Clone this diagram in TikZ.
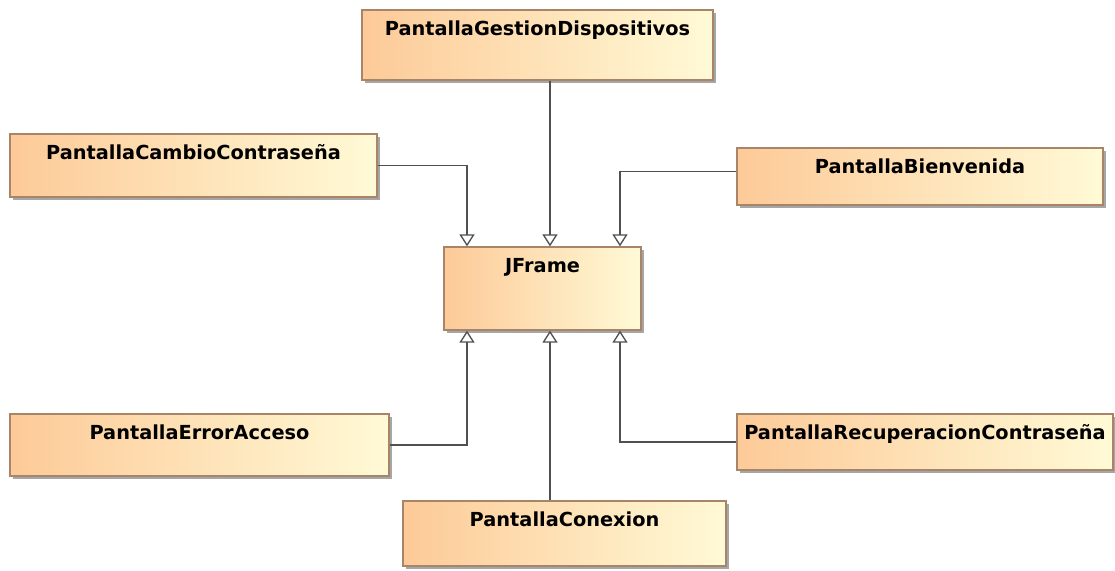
\documentclass[tikz,border=0pt]{standalone}
\usepackage{fontspec}
\setmainfont{DejaVu Sans}
\usetikzlibrary{arrows.meta,shadows}
\definecolor{boxleft}{RGB}{253,202,152}
\definecolor{boxright}{RGB}{255,250,214}
\definecolor{boxedge}{RGB}{168,132,104}
\definecolor{wire}{RGB}{80,80,80}
\tikzset{
  uml/.style={draw=boxedge, line width=0.9pt, left color=boxleft, right color=boxright,
    drop shadow={shadow xshift=2.5pt, shadow yshift=-2.5pt, fill=black, opacity=0.35},
    inner sep=0pt, text height=19pt, font=\fontsize{14.5pt}{16pt}\selectfont\bfseries},
  gen/.style={draw=wire, line width=1pt,
    -{Triangle[open, width=11.25pt, length=9pt, fill=white]}},
}
\begin{document}
\begin{tikzpicture}[x=0.75pt, y=-0.75pt]
\useasboundingbox (0,0) rectangle (1115,571);
% classes (position = centre, sizes in px)
\node[uml, minimum width=351*0.75pt, text depth=(70*0.75pt-19pt)] (gd) at (537.5,45) {PantallaGestionDispositivos};
\node[uml, minimum width=367*0.75pt, text depth=(63*0.75pt-19pt)] (cc) at (193.5,165.5) {PantallaCambioContraseña};
\node[uml, minimum width=366*0.75pt, text depth=(57*0.75pt-19pt)] (bv) at (920,176.5) {PantallaBienvenida};
\node[uml, minimum width=197*0.75pt, text depth=(83*0.75pt-19pt)] (jf) at (542.5,288.5) {JFrame};
\node[uml, minimum width=379*0.75pt, text depth=(62*0.75pt-19pt)] (ea) at (199.5,445) {PantallaErrorAcceso};
\node[uml, minimum width=376*0.75pt, text depth=(56*0.75pt-19pt)] (rc) at (925,442) {PantallaRecuperacionContraseña};
\node[uml, minimum width=323*0.75pt, text depth=(65*0.75pt-19pt)] (cx) at (564.5,533.5) {PantallaConexion};
% vertical lanes of the generalisation lines
\coordinate (lx1) at (467,0);
\coordinate (lx2) at (550,0);
\coordinate (lx3) at (620,0);
% generalisations towards JFrame
\draw[gen] (cc.east) -| (jf.north -| lx1);
\draw[gen] (gd.south -| lx2) -- (jf.north -| lx2);
\draw[gen] ([yshift=4pt]bv.west) -| (jf.north -| lx3);
\draw[gen] (ea.east) -| (jf.south -| lx1);
\draw[gen] (cx.north -| lx2) -- (jf.south -| lx2);
\draw[gen] (rc.west) -| (jf.south -| lx3);
\end{tikzpicture}
\end{document}
